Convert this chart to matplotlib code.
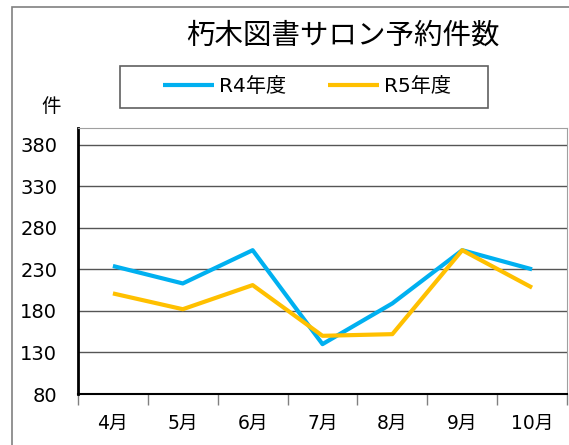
import matplotlib.pyplot as plt
from matplotlib.patches import Rectangle

plt.rcParams['font.family'] = ['DejaVu Sans', 'Noto Sans CJK JP']

# data
months = ['4月', '5月', '6月', '7月', '8月', '9月', '10月']
r4 = [234, 213, 253, 140, 189, 253, 230]
r5 = [201, 182, 211, 150, 152, 253, 208]
yticks = [80, 130, 180, 230, 280, 330, 380]

W, H = 569, 445
fig = plt.figure(figsize=(W / 100, H / 100), dpi=100)

# outer chart border
fig.patches.append(Rectangle((12 / W, -0.1), 1.2, 1.1 - 7 / H, transform=fig.transFigure,
                             fill=False, edgecolor='#808080', linewidth=1.2))

ax = fig.add_axes([78 / W, (H - 394) / H, (567 - 78) / W, (394 - 128) / H])
x = list(range(len(months)))
ax.plot(x, r4, color='#00B0F0', linewidth=3, solid_capstyle='butt', label='R4年度', zorder=3)
ax.plot(x, r5, color='#FFC000', linewidth=3, solid_capstyle='butt', label='R5年度', zorder=3)

ax.set_xlim(-0.5, len(months) - 0.5)
ax.set_ylim(80, 400)
ax.set_yticks(yticks)
ax.set_yticklabels([str(v) for v in yticks], fontsize=14)
ax.set_xticks(x)
ax.set_xticklabels(months, fontsize=13.5)
ax.tick_params(axis='y', length=0, pad=15)
ax.tick_params(axis='x', length=0, pad=14)
ax.set_xticks([i - 0.5 for i in range(len(months) + 1)], minor=True)
ax.tick_params(axis='x', which='minor', length=8, width=1, color='#808080', direction='out')

ax.grid(axis='y', color='#555555', linewidth=1)
ax.set_axisbelow(True)
ax.spines['left'].set_linewidth(2)
ax.spines['left'].set_color('black')
ax.spines['bottom'].set_linewidth(1.5)
ax.spines['bottom'].set_color('black')
ax.spines['top'].set_color('#a0a0a0')
ax.spines['right'].set_color('#a0a0a0')

fig.text(343 / W, 1 - 36 / H, '朽木図書サロン予約件数', fontsize=20.5, ha='center', va='center',
         family='Noto Sans CJK JP')
fig.text(51 / W, 1 - 106 / H, '件', fontsize=14, ha='center', va='center')

# legend box
fig.patches.append(Rectangle((120 / W, 1 - 108 / H), (488 - 120) / W, 42 / H,
                             transform=fig.transFigure, fill=False,
                             edgecolor='#606060', linewidth=1.2))
fig.legend(loc='center', bbox_to_anchor=(307 / W, 1 - 87 / H), ncol=2, fontsize=14.5,
           frameon=False, handlelength=2.5, handletextpad=0.25, columnspacing=2.1)

fig.savefig('out.png', dpi=100)
